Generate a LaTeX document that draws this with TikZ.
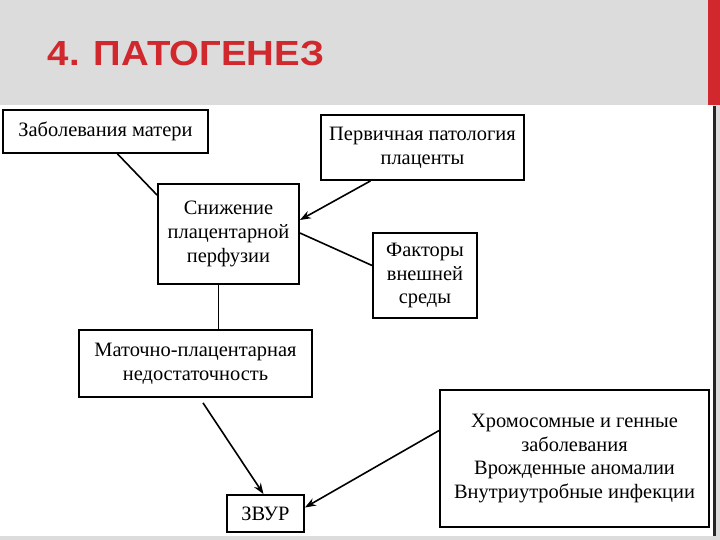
\documentclass[tikz,border=0pt]{standalone}
\usepackage{fontspec}
\usepackage{graphicx}
\setmainfont{Liberation Serif}
\newfontfamily\titlefont{Liberation Sans}
\usepackage{tikz}
\usetikzlibrary{arrows.meta}

\definecolor{titlered}{RGB}{208,40,44}
\definecolor{slidegray}{RGB}{220,220,220}

\begin{document}
\begin{tikzpicture}[x=1bp, y=-1bp, >=Stealth,
	box/.style={draw, line width=1.8bp, align=center, inner sep=0pt,
		font=\fontsize{20.5}{24}\selectfont},
	link/.style={line width=1.6bp},
	arrowlink/.style={->, line width=1.6bp, >={Stealth[length=11bp, width=8bp]}}]
	  			% slide background
	  			\fill[slidegray] (0,0) rectangle (720,540);
	  			\fill[white] (0,105) rectangle (713,536);
	  			\fill[black!85] (713,106) rectangle (716,536);
	  			\fill[titlered] (708,0) rectangle (720,105);
	  			\node[titlered, font=\titlefont\bfseries\fontsize{35}{40}\selectfont] (titel) at (186,53) {\scalebox{1.1}[1]{4. ПАТОГЕНЕЗ}};

	  			% boxes
	  			\node[box, minimum width=205bp, minimum height=43bp] (materi) at (105.5,131.5) {Заболевания матери};
	  			\node[box, minimum width=203bp, minimum height=65bp] (placenta) at (422.5,147.5) {Первичная патология\\плаценты};
	  			\node[box, minimum width=141bp, minimum height=100bp] (perfuzia) at (228.5,234) {Снижение\\плацентарной\\перфузии};
	  			\node[box, minimum width=104bp, minimum height=85bp] (faktory) at (425,275.5) {Факторы\\внешней\\среды};
	  			\node[box, minimum width=233bp, minimum height=67bp] (mpn) at (195.5,363.5) {Маточно-плацентарная\\недостаточность};
	  			\node[box, minimum width=77bp, minimum height=37bp] (zvur) at (265.5,513.5) {ЗВУР};
	  			\node[box, minimum width=269bp, minimum height=137bp] (genet) at (574.5,458.5) {Хромосомные и генные\\заболевания\\Врожденные аномалии\\Внутриутробные инфекции};

	  			% connectors
	  			\draw[link] ([xshift=12bp]materi.south) -- ([yshift=-12bp]perfuzia.north west);
	  			\draw[arrowlink] ([xshift=-52bp]placenta.south) -- ([yshift=14bp]perfuzia.east);
	  			\draw[link] ([yshift=1bp]perfuzia.east) -- ([yshift=10bp]faktory.west);
	  			\draw[link] ([xshift=-10bp]perfuzia.south) -- ([xshift=-10bp]perfuzia.south |- mpn.north);
	  			\draw[arrowlink] ([xshift=7.5bp, yshift=-5bp]mpn.south) -- ([xshift=-2bp]zvur.north);
	  			\draw[arrowlink] ([yshift=28bp]genet.west) -- ([yshift=6bp]zvur.east);
\end{tikzpicture}
\end{document}
